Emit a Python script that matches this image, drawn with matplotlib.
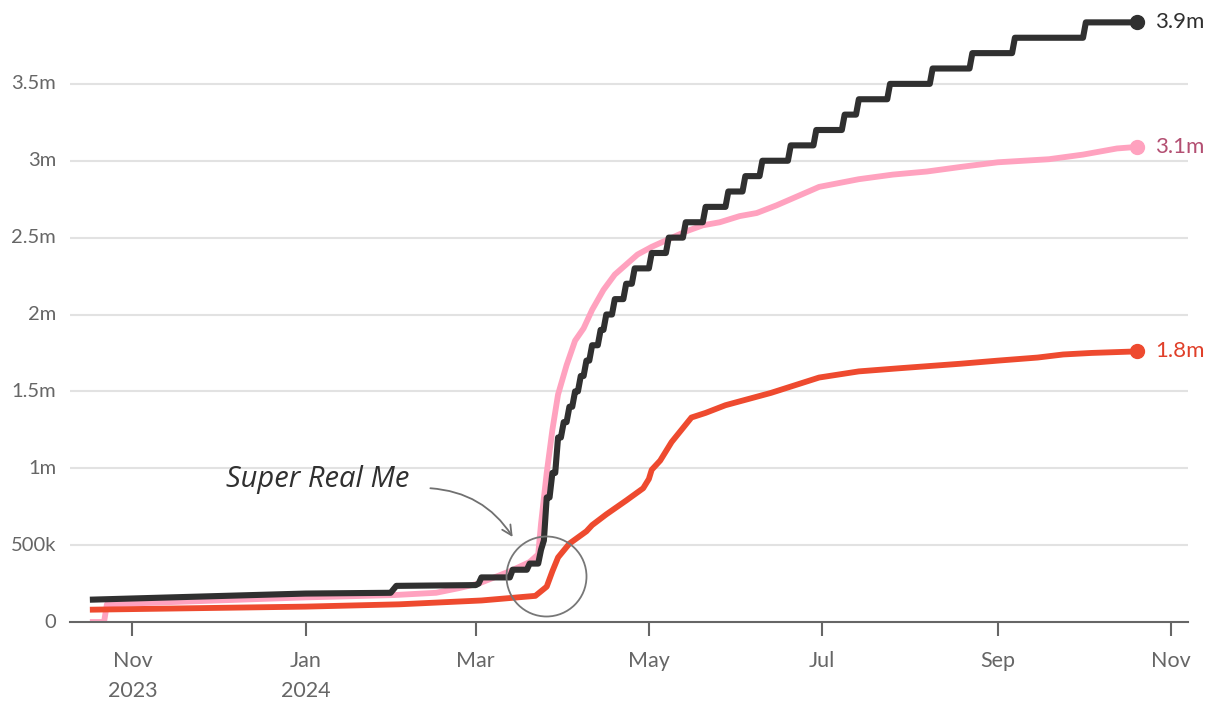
import pandas as pd
import matplotlib
matplotlib.use("Agg")
import matplotlib.pyplot as plt

# dark line: gradual start, then a step series (date the level starts, level in millions)
black_early_dates = ["2023-10-17", "2024-01-01", "2024-01-31", "2024-02-02", "2024-03-01", "2024-03-02"]
black_early_vals = [0.145, 0.185, 0.19, 0.235, 0.24, 0.25]
black_step_dates = ["2024-03-03", "2024-03-14", "2024-03-20", "2024-03-24", "2024-03-25", "2024-03-26",
                    "2024-03-28", "2024-03-30", "2024-04-01", "2024-04-03", "2024-04-05", "2024-04-07",
                    "2024-04-09", "2024-04-11", "2024-04-14", "2024-04-16", "2024-04-19", "2024-04-23",
                    "2024-04-26", "2024-05-02", "2024-05-08", "2024-05-14", "2024-05-21", "2024-05-29",
                    "2024-06-04", "2024-06-10", "2024-06-20", "2024-06-29", "2024-07-09", "2024-07-14",
                    "2024-07-25", "2024-08-09", "2024-08-23", "2024-09-07", "2024-10-02"]
black_step_vals = [0.29, 0.34, 0.38, 0.47, 0.53, 0.81,
                   0.97, 1.2, 1.3, 1.4, 1.5, 1.6,
                   1.7, 1.8, 1.9, 2.0, 2.1, 2.2,
                   2.3, 2.4, 2.5, 2.6, 2.7, 2.8,
                   2.9, 3.0, 3.1, 3.2, 3.3, 3.4,
                   3.5, 3.6, 3.7, 3.8, 3.9]
last_date = "2024-10-20"

pink_dates = ["2023-10-17", "2023-10-22", "2023-10-23", "2024-01-01", "2024-02-01", "2024-02-16",
              "2024-02-24", "2024-03-02", "2024-03-13", "2024-03-20", "2024-03-23", "2024-03-24",
              "2024-03-26", "2024-03-28", "2024-03-30", "2024-04-02", "2024-04-05", "2024-04-08",
              "2024-04-11", "2024-04-15", "2024-04-19", "2024-04-27", "2024-05-02", "2024-05-08",
              "2024-05-14", "2024-05-20", "2024-05-26", "2024-06-02", "2024-06-08", "2024-06-15",
              "2024-06-30", "2024-07-14", "2024-07-26", "2024-08-07", "2024-08-19", "2024-09-01",
              "2024-09-19", "2024-10-01", "2024-10-13", "2024-10-20"]
pink_vals = [0, 0, 0.115, 0.16, 0.175, 0.19,
             0.22, 0.25, 0.33, 0.39, 0.44, 0.64,
             0.97, 1.25, 1.48, 1.67, 1.83, 1.91,
             2.03, 2.16, 2.26, 2.39, 2.44, 2.49,
             2.54, 2.58, 2.60, 2.64, 2.66, 2.71,
             2.83, 2.88, 2.91, 2.93, 2.96, 2.99,
             3.01, 3.04, 3.08, 3.09]

red_dates = ["2023-10-17", "2024-01-01", "2024-02-03", "2024-03-03", "2024-03-22", "2024-03-26",
             "2024-03-28", "2024-03-30", "2024-04-03", "2024-04-06", "2024-04-09", "2024-04-11",
             "2024-04-16", "2024-04-23", "2024-04-29", "2024-05-01", "2024-05-02", "2024-05-05",
             "2024-05-09", "2024-05-16", "2024-05-21", "2024-05-28", "2024-06-07", "2024-06-13",
             "2024-06-30", "2024-07-14", "2024-07-28", "2024-08-19", "2024-09-01", "2024-09-15",
             "2024-09-24", "2024-10-04", "2024-10-20"]
red_vals = [0.08, 0.10, 0.115, 0.14, 0.17, 0.23,
            0.33, 0.42, 0.51, 0.55, 0.59, 0.63,
            0.70, 0.79, 0.87, 0.93, 0.99, 1.05,
            1.17, 1.33, 1.36, 1.41, 1.46, 1.49,
            1.59, 1.63, 1.65, 1.68, 1.70, 1.72,
            1.74, 1.75, 1.76]

end_labels = ["3.9m", "3.1m", "1.8m"]

y_ticks = [0, 0.5, 1, 1.5, 2, 2.5, 3, 3.5]
y_labels = ["0", "500k", "1m", "1.5m", "2m", "2.5m", "3m", "3.5m"]
x_ticks = ["2023-11-01", "2024-01-01", "2024-03-01", "2024-05-01", "2024-07-01", "2024-09-01", "2024-11-01"]
x_labels = ["Nov\n2023", "Jan\n2024", "Mar", "May", "Jul", "Sep", "Nov"]

BLACK = "#303030"
PINK = "#ffa2bf"
RED = "#ee4a2f"
GREY = "#666666"

plt.rcParams["font.family"] = ["Lato", "DejaVu Sans"]


def build_steps(dates, vals, end):
    # each level holds until the day before the next step
    d = list(pd.to_datetime(dates))
    d_end = pd.to_datetime(end)
    xs, ys = [], []
    for i, (day, v) in enumerate(zip(d, vals)):
        xs.append(day)
        ys.append(v)
        nxt = d[i + 1] - pd.Timedelta(days=1) if i + 1 < len(d) else d_end
        if nxt > day:
            xs.append(nxt)
            ys.append(v)
    return xs, ys


bx, by = build_steps(black_step_dates, black_step_vals, last_date)
bx = list(pd.to_datetime(black_early_dates)) + bx
by = black_early_vals + by

fig = plt.figure(figsize=(12.2, 7.14), dpi=100)
ax = fig.add_axes([70 / 1220, 92 / 714, 1118 / 1220, 615 / 714])

for y in y_ticks[1:]:
    ax.axhline(y, color="#e2e2e2", lw=1.5, zorder=0)

ax.plot(pd.to_datetime(pink_dates), pink_vals, color=PINK, lw=4.2, solid_capstyle="butt", zorder=2)
ax.plot(pd.to_datetime(red_dates), red_vals, color=RED, lw=4.2, solid_capstyle="butt", zorder=3)
ax.plot(bx, by, color=BLACK, lw=4.4, solid_capstyle="butt", zorder=4)

ends = [(bx[-1], by[-1], BLACK, BLACK),
        (pd.to_datetime(pink_dates[-1]), pink_vals[-1], PINK, "#b34f72"),
        (pd.to_datetime(red_dates[-1]), red_vals[-1], RED, "#e0402a")]
for (x, y, c, tc), lab in zip(ends, end_labels):
    ax.plot([x], [y], "o", color=c, ms=10, zorder=5)
    ax.annotate(lab, (x, y), xytext=(13, 0), textcoords="offset points",
                va="center", ha="left", color=tc, fontsize=16)

# annotation
ax.text(pd.Timestamp("2023-12-04"), 0.925, "Super Real Me", fontsize=21, style="italic",
        color=BLACK, ha="left", va="center", family=["Open Sans", "Roboto", "DejaVu Sans"])
ax.annotate("", xy=(pd.Timestamp("2024-03-14"), 0.553), xytext=(pd.Timestamp("2024-02-14"), 0.87),
            arrowprops=dict(arrowstyle="->,head_length=0.7,head_width=0.35", color="#707070", lw=1.3,
                            connectionstyle="arc3,rad=-0.25", shrinkA=0, shrinkB=0))
ax.plot([pd.Timestamp("2024-03-25 16:00")], [0.296], "o", ms=57.6, mfc="none", mec="#777777",
        mew=1.3, zorder=6)

ax.set_xlim(pd.Timestamp("2023-10-10"), pd.Timestamp("2024-11-07"))
ax.set_ylim(0, 4.0)
ax.set_yticks(y_ticks)
ax.set_yticklabels(y_labels)
ax.set_xticks(pd.to_datetime(x_ticks))
ax.set_xticklabels(x_labels, linespacing=1.6)

for s in ["left", "right", "top"]:
    ax.spines[s].set_visible(False)
ax.spines["bottom"].set_color(GREY)
ax.spines["bottom"].set_linewidth(1.5)
ax.tick_params(axis="y", length=0, pad=10, labelsize=14.5, labelcolor=GREY)
ax.tick_params(axis="x", length=10, width=1.5, color=GREY, pad=11, labelsize=15.5, labelcolor=GREY)
for t in ax.get_yticklabels():
    t.set_va("center")

fig.savefig("out.png", dpi=100)
